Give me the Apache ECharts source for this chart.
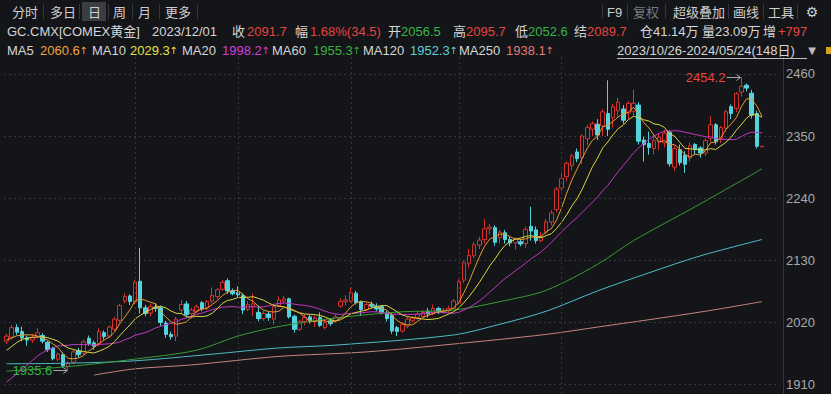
<!DOCTYPE html>
<html><head><meta charset="utf-8">
<script src="https://cdn.jsdelivr.net/npm/echarts@6/dist/echarts.min.js"></script>
<style>html,body{margin:0;padding:0;background:#141519;}#c{width:831px;height:394px;}</style>
</head><body><div id="c"></div>
<script>
// ---------- data ----------
const dates = [
'2023/10/26','2023/10/27','2023/10/30','2023/10/31',
'2023/11/01','2023/11/02','2023/11/03','2023/11/06','2023/11/07','2023/11/08','2023/11/09','2023/11/10',
'2023/11/13','2023/11/14','2023/11/15','2023/11/16','2023/11/17','2023/11/20','2023/11/21','2023/11/22','2023/11/24',
'2023/11/27','2023/11/28','2023/11/29','2023/11/30',
'2023/12/01','2023/12/04','2023/12/05','2023/12/06','2023/12/07','2023/12/08','2023/12/11','2023/12/12','2023/12/13','2023/12/14','2023/12/15',
'2023/12/18','2023/12/19','2023/12/20','2023/12/21','2023/12/22','2023/12/26','2023/12/27','2023/12/28','2023/12/29',
'2024/01/02','2024/01/03','2024/01/04','2024/01/05','2024/01/08','2024/01/09','2024/01/10','2024/01/11','2024/01/12',
'2024/01/15','2024/01/16','2024/01/17','2024/01/18','2024/01/19','2024/01/22','2024/01/23','2024/01/24','2024/01/25','2024/01/26',
'2024/01/29','2024/01/30','2024/01/31',
'2024/02/01','2024/02/02','2024/02/05','2024/02/06','2024/02/07','2024/02/08','2024/02/09','2024/02/12','2024/02/13','2024/02/14','2024/02/15','2024/02/16',
'2024/02/19','2024/02/20','2024/02/21','2024/02/22','2024/02/23','2024/02/26','2024/02/27','2024/02/28','2024/02/29',
'2024/03/01','2024/03/04','2024/03/05','2024/03/06','2024/03/07','2024/03/08','2024/03/11','2024/03/12','2024/03/13','2024/03/14','2024/03/15',
'2024/03/18','2024/03/19','2024/03/20','2024/03/21','2024/03/22','2024/03/25','2024/03/26','2024/03/27','2024/03/28',
'2024/04/01','2024/04/02','2024/04/03','2024/04/04','2024/04/05','2024/04/08','2024/04/09','2024/04/10','2024/04/11','2024/04/12',
'2024/04/15','2024/04/16','2024/04/17','2024/04/18','2024/04/19','2024/04/22','2024/04/23','2024/04/24','2024/04/25','2024/04/26',
'2024/04/29','2024/04/30',
'2024/05/01','2024/05/02','2024/05/03','2024/05/06','2024/05/07','2024/05/08','2024/05/09','2024/05/10',
'2024/05/13','2024/05/14','2024/05/15','2024/05/16','2024/05/17','2024/05/20','2024/05/21','2024/05/22','2024/05/23','2024/05/24'
];
// [open, close, low, high]
const ohlc = [
[1987,1996,1982,2000],[1994,2011,1990,2016],[2011,2003,1998,2017],[2004,1993,1987,2013],
[1993,1989,1979,1997],[1989,1994,1984,2000],[1995,2002,1992,2010],[1997,1987,1983,2001],[1985,1972,1968,1988],
[1975,1956,1953,1977],[1955,1964,1951,1967],[1963,1943,1940,1967],[1942,1948,1935.6,1952],[1950,1968,1947,1972],
[1970,1963,1958,1975],[1966,1986,1962,1990],[1992,1983,1979,1997],[1984,1978,1972,1988],[1982,2004,1978,2010],
[2002,1995,1990,2006],[1996,2012,1993,2015],[2008,2026,2004,2030],[2024,2050,2020,2053],[2058,2066,2054,2072],
[2067,2057.2,2051,2070],[2056.5,2091.7,2052.6,2095.7],[2093,2046,2036,2152.3],[2046,2036,2031,2051],[2037,2048,2031,2053],
[2047,2045,2039,2054],[2046,2020,2014,2050],[2019,1999,1993,2023],[1999,1995,1990,2004],[1996,2026,1987,2030],
[2042,2052,2035,2060],[2053,2034,2030,2058],[2036,2042,2027,2046],[2040,2048,2036,2052],[2055,2044,2040,2058],
[2046,2057,2042,2060],[2058,2068,2054,2082],[2066,2078,2062,2081],[2079,2091,2076,2095],[2094,2076,2071,2098],
[2076,2071,2068,2080],[2073,2069,2064,2084],[2068,2042,2035,2072],[2043,2052,2040,2058],[2048,2053,2032,2071],
[2038,2027,2022,2050],[2027,2036,2023,2040],[2035,2029,2023,2040],[2026,2048,2016,2052],[2050,2060,2047,2066],
[2058,2062,2055,2067],[2062,2030,2027,2064],[2031,2008,2002,2034],[2008,2022,2005,2025],[2022,2029,2015,2035],
[2030,2023,2018,2034],[2022,2028,2012,2032],[2029,2015,2012,2038],[2011,2020,2008,2025],[2023,2018,2014,2026],
[2023,2030,2020,2035],[2049,2057,2046,2063],[2057,2060,2050,2068],[2058,2073,2055,2082],[2072,2055,2052,2076],
[2057,2043,2032,2059],[2043,2052,2040,2055],[2052,2049,2045,2057],[2049,2044,2040,2054],[2048,2038,2034,2051],
[2037,2027,2022,2041],[2033,2005,2000,2037],[2011,2004,1996,2014],[2005,2017,2002,2021],[2014,2026,2010,2030],
[2023,2028,2020,2031],[2029,2035,2025,2040],[2031,2038,2028,2042],[2040,2035,2029,2046],[2035,2045,2033,2052],
[2045,2039,2035,2048],[2038,2042,2035,2046],[2042,2045,2037,2050],[2045,2058,2043,2062],[2054,2093,2052,2097],
[2095,2126,2090,2130],[2124,2139,2117,2150],[2138,2158,2134,2163],[2157,2166,2150,2172],[2167,2186,2160,2203],
[2186,2189,2176,2195],[2188,2162,2156,2192],[2170,2180,2160,2184],[2179,2167,2160,2184],[2167,2161,2155,2172],
[2161,2168,2149,2171],[2163,2159,2155,2168],[2160,2185,2152,2190],[2190,2182,2165,2225],[2184,2165,2160,2190],
[2165,2172,2162,2180],[2180,2198,2176,2203],[2198,2214,2192,2219],[2220,2256,2215,2260],[2258,2275,2253,2287],
[2278,2302,2270,2305],[2298,2315,2290,2319],[2322,2310,2304,2328],[2312,2350,2300,2353],[2345,2365,2334,2370],
[2362,2372,2350,2376],[2371,2352,2343,2380],[2368,2393,2350,2398],[2390,2362,2350,2448.8],[2383,2402,2365,2407],
[2395,2410,2385,2418],[2398,2378,2372,2405],[2391,2408,2380,2412],[2394,2408,2385,2432],[2405,2341,2335,2410],
[2343,2335,2305,2349],[2337,2330,2317,2358],[2328,2342,2318,2352],[2340,2348,2325,2355],[2338,2355,2330,2361],
[2357,2301,2296,2360],[2295,2328,2288,2333],[2326,2303,2298,2335],[2316,2300,2285,2323],[2311,2333,2305,2338],
[2335,2326,2318,2338],[2329,2320,2312,2332],[2320,2342,2315,2346],[2346,2370,2340,2385],[2370,2340,2335,2373],
[2346,2365,2338,2368],[2364,2393,2358,2396],[2402,2390,2380,2406],[2399,2425,2393,2428],[2428,2438,2420,2454.2],
[2440,2435,2429,2443],[2426,2387,2381,2432],[2390,2332,2328,2395],[2331,2332,2330.5,2333]
];
// closes before the visible window (needed for MA5/10/20 at the left edge)
const priorCloses = [1866.1,1847.2,1841.5,1841.5,1833.0,1845.2,1864.4,1875.5,1887.0,1883.1,1941.5,1934.4,1937.0,1968.1,1980.4,1994.4,1982.9,1987.8,1985.1];
// long moving averages: [candle index, value]
const ma60Pts  = [[0,1934],[12,1942],[25,1955.3],[37,1971],[45,1996],[53,2013],[64,2028],[77,2039],[87,2042],[96,2057],[105,2077],[115,2123],[122,2165],[134,2225],[147,2292]];
const ma120Pts = [[0,1947],[12,1948],[25,1952.3],[40,1964],[53,1975],[64,1980],[87,1998],[96,2017],[105,2040],[115,2076],[125,2108],[135,2138],[147,2167]];
const ma250Pts = [[17,1927],[25,1938.1],[36,1945],[53,1960],[70,1968],[87,1982],[105,1999],[115,2012],[125,2025],[136,2040],[147,2057]];
const yTicks = [1910,2020,2130,2240,2350,2460];
const monthStarts = ['2023/12/01','2024/01/02','2024/02/01','2024/03/01','2024/04/01'];
const highMark = ['2024/05/20', 2454.2];
const lowMark = ['2023/11/13', 1935.6];

// ---------- style ----------
const BG = '#141519', RED = '#e8433f', GREEN = '#35b546', W = '#d6d6d6';
const C5 = '#f0a23c', C10 = '#e4e04a', C20 = '#d23fd6', C60 = '#3aad3a', C120 = '#5ad0d6', C250 = '#e07a7a';
const FONT = '"Liberation Sans","Noto Sans CJK SC",sans-serif';

function movingAvg(n){
  const all = priorCloses.concat(ohlc.map(d => d[1]));
  const off = priorCloses.length;
  return ohlc.map((d, i) => {
    const j = i + off;
    if (j < n - 1) return null;
    let s = 0;
    for (let k = j - n + 1; k <= j; k++) s += all[k];
    return +(s / n).toFixed(2);
  });
}
const ptsToLine = pts => pts.map(p => [dates[p[0]], p[1]]);

const chart = echarts.init(document.getElementById('c'), null, {renderer: 'svg'});
const lineS = (name, data, color, smooth) => ({
  name, type: 'line', data, showSymbol: false, symbol: 'none', smooth: smooth || false,
  lineStyle: {color, width: 1}, silent: true, z: 3
});
chart.setOption({
  backgroundColor: BG,
  animation: false,
  grid: {left: 4, top: 57, width: 776, height: 337},
  xAxis: {type: 'category', data: dates, max: 150, boundaryGap: true,
    axisLine: {show: false}, axisTick: {show: false}, axisLabel: {show: false}, splitLine: {show: false}},
  yAxis: {type: 'value', position: 'right', offset: 3, min: 1893.5, max: 2490, scale: true,
    axisLine: {show: true, lineStyle: {color: '#34363c'}},
    axisTick: {show: false, customValues: yTicks},
    axisLabel: {customValues: yTicks, color: '#a9a9a9', fontSize: 13, margin: 3, fontFamily: 'Liberation Sans',
      formatter: v => String(v)},
    splitLine: {show: true, customValues: yTicks, lineStyle: {color: '#34363b', type: [2, 3], width: 1}}},
  series: [
    {type: 'candlestick', data: ohlc, barWidth: 4,
      itemStyle: {color: BG, color0: '#54d3dc', borderColor: '#d8322e', borderColor0: '#54d3dc', borderWidth: 1},
      markLine: {silent: true, symbol: 'none', label: {show: false},
        lineStyle: {color: '#34363b', type: [2, 3], width: 1},
        data: monthStarts.map(d => ({xAxis: d}))}, z: 2},
    lineS('MA250', ptsToLine(ma250Pts), '#c7847c', 0.3),
    lineS('MA120', ptsToLine(ma120Pts), '#4fbac8', 0.3),
    lineS('MA60', ptsToLine(ma60Pts), '#3a9b34', 0.3),
    lineS('MA20', movingAvg(20), '#c236c6'),
    lineS('MA10', movingAvg(10), '#dcd640'),
    lineS('MA5', movingAvg(5), '#e89a2e')
  ]
});

// ---------- header & annotations ----------
const txt = (x, y, text, color, opt) => Object.assign({type: 'text', x, y, silent: true, z: 10,
  style: Object.assign({text, fill: color, fontSize: 13, fontFamily: FONT,
    textAlign: 'left', align: 'left', textVerticalAlign: 'middle', verticalAlign: 'middle'}, (opt || {}))});
const line = (x1, y1, x2, y2, color) => ({type: 'line', silent: true, z: 10,
  shape: {x1, y1, x2, y2}, style: {stroke: color, lineWidth: 1}});

const g = [];
// row 1 tabs
g.push({type: 'rect', shape: {x: 82, y: 2, width: 24, height: 19}, style: {fill: '#3b3d43'}, z: 9, silent: true});
[43, 79, 108, 132, 159, 197, 602, 627, 665, 728, 763, 797].forEach(x => g.push(line(x + 0.5, 4, x + 0.5, 19, '#35373c')));
[[12,'分时'],[50,'多日'],[88,'日'],[113,'周'],[138,'月'],[165,'更多'],[607,'F9'],[673,'超级叠加'],[733,'画线'],[768,'工具']]
  .forEach(t => g.push(txt(t[0], 12, t[1], '#cfcfcf')));
g.push(txt(633, 12, '复权', '#7a7a7a'));
g.push(txt(812, 12, '⚙', '#cfcfcf', {textAlign: 'center', align: 'center', fontFamily: 'DejaVu Sans', fontSize: 14}));
// row 2 quote line
[[7,'GC.CMX[COMEX黄金]',W],[152,'2023/12/01',W],[232,'收',W],[247,'2091.7',RED],[295,'幅',W],[310,'1.68%(34.5)',RED],
 [388,'开',W],[401,'2056.5',GREEN],[453,'高',W],[466,'2095.7',RED],[515,'低',W],[528,'2052.6',GREEN],
 [574,'结',W],[587,'2089.7',RED],[640,'仓41.14万',W],[702,'量23.09万',W],[763,'增',W],[778,'+797',RED]]
  .forEach(t => g.push(txt(t[0], 31, t[1], t[2])));
// row 3 MA legend
[[7,'MA5',W],[40,'2060.6',C5],[92,'MA10',W],[130,'2029.3',C10],[182,'MA20',W],[222,'1998.2',C20],
 [272,'MA60',W],[313,'1955.3',C60],[363,'MA120',W],[410,'1952.3',C120],[459,'MA250',W],[506,'1938.1',C250],
 [617,'2023/10/26-2024/05/24(148日)',W]]
  .forEach(t => g.push(txt(t[0], 50, t[1], t[2])));
[[83.5,C5],[173.5,C10],[265.5,C20],[356.5,C60],[453.5,C120],[549.5,C250]]
  .forEach(a => g.push(txt(a[0], 50, '↑', a[1], {textAlign: 'center', align: 'center', fontFamily: 'DejaVu Sans', fontSize: 10})));
g.push(line(617, 58.5, 807, 58.5, '#bdbdbd'));
g.push(txt(812, 50, '▼', '#bdbdbd', {textAlign: 'center', align: 'center', fontFamily: 'DejaVu Sans', fontSize: 10}));
g.push({type: 'rect', shape: {x: 826, y: 47, width: 5, height: 7}, style: {fill: '#d8a020'}, z: 10, silent: true});

// high / low markers
function marker(pt, color, label){
  const p = chart.convertToPixel({seriesIndex: 0}, pt);
  const tip = p[0] - 1, y = Math.round(p[1]) + 0.5;
  g.push({type: 'polyline', silent: true, z: 10, shape: {points: [[tip - 14, y], [tip, y]]}, style: {stroke: '#a8a8a8', lineWidth: 1, fill: null}});
  g.push({type: 'polyline', silent: true, z: 10, shape: {points: [[tip - 4, y - 3], [tip, y], [tip - 4, y + 3]]}, style: {stroke: '#a8a8a8', lineWidth: 1, fill: null}});
  g.push(txt(tip - 15, y, label, color, {textAlign: 'right', align: 'right'}));
}
marker(highMark, RED, String(highMark[1]));
marker(lowMark, GREEN, String(lowMark[1]));

chart.setOption({graphic: {elements: g}});
</script>
</body></html>
